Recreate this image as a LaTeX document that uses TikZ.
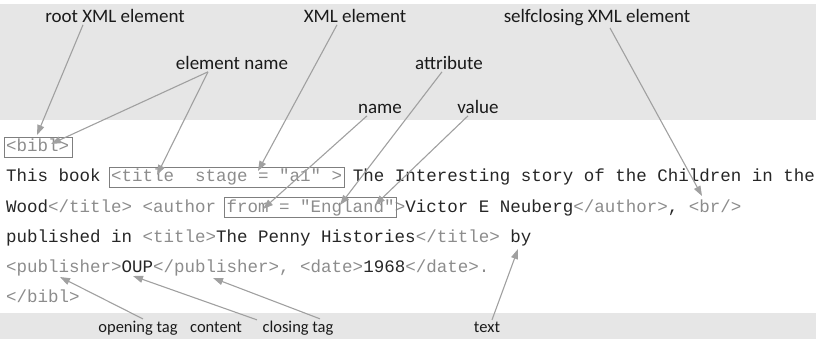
\documentclass[tikz,border=0pt]{standalone}
\usepackage{fontspec}
\usepackage{xcolor}
\usetikzlibrary{arrows.meta}
\setsansfont{Carlito}
\newfontfamily\codefont{Liberation Mono}

\definecolor{bandgray}{HTML}{E6E6E6}
\definecolor{taggray}{HTML}{8C8C8C}
\definecolor{txtdark}{HTML}{262626}
\definecolor{boxgray}{HTML}{7F7F7F}
\definecolor{arrowgray}{HTML}{A0A0A0}
\definecolor{labelink}{HTML}{1A1A1A}

\newcommand{\tg}[1]{\textcolor{taggray}{#1}}

\begin{document}
\begin{tikzpicture}[x=1pt,y=-1pt]

%-------------------------------------------------
% Styles
%-------------------------------------------------
\tikzset{
  band/.style={fill=bandgray},
  lbl/.style={font=\sffamily\fontsize{19}{19}\selectfont, text=labelink, inner sep=2pt, anchor=base},
  lblbot/.style={lbl, font=\sffamily\fontsize{16.5}{16.5}\selectfont},
  code/.style={font=\codefont\fontsize{17.5}{17.5}\selectfont, text=txtdark, inner sep=0pt, anchor=base west},
  codebox/.style={draw=boxgray, line width=1pt, inner sep=0pt, anchor=north west},
  pointer/.style={draw=arrowgray, line width=1.1pt, -{Triangle[length=10pt,width=7pt]}}
}

\useasboundingbox (0,0) rectangle (816,339);

% Gray bands for the labels
\fill[band] (0,4) rectangle (816,120);
\fill[band] (0,313) rectangle (816,339);

%-------------------------------------------------
% XML code
%-------------------------------------------------
\node[code] (l1) at (6,152) {\tg{<bibl>}};
\node[code] (l2) at (6,182) {This book \tg{<title~~stage = "a1" >} The Interesting story of the Children in the};
\node[code] (l3) at (6,212) {Wood\tg{</title> <author }\tg{from = "England"}\tg{>}Victor E Neuberg\tg{</author>}, \tg{<br/>}};
\node[code] (l4) at (6,242) {published in \tg{<title>}The Penny Histories\tg{</title>} by};
\node[code] (l5) at (6,272) {\tg{<publisher>}OUP\tg{</publisher>, <date>}1968\tg{</date>.}};
\node[code] (l6) at (6,302) {\tg{</bibl>}};

% Boxes round the marked parts
\node[codebox, minimum width=68, minimum height=20] (bibbox) at (4,137) {};
\node[codebox, minimum width=235, minimum height=20] (titlebox) at (109,167) {};
\node[codebox, minimum width=172, minimum height=20] (frombox) at (223.5,197) {};

%-------------------------------------------------
% Labels
%-------------------------------------------------
\node[lbl] (root) at (115,22.5) {root XML element};
\node[lbl] (xmlel) at (355,22.5) {XML element};
\node[lbl] (selfcl) at (597,22.5) {selfclosing XML element};
\node[lbl] (elname) at (232,69.5) {element name};
\node[lbl] (attr) at (449,69.5) {attribute};
\node[lbl] (aname) at (380,113.5) {name};
\node[lbl] (aval) at (478,113.5) {value};

\node[lblbot] (opentag) at (138,332.5) {opening tag};
\node[lblbot] (content) at (216,332.5) {content};
\node[lblbot] (closetag) at (298,332.5) {closing tag};
\node[lblbot] (txt) at (487,332.5) {text};

%-------------------------------------------------
% Arrow tips in the code
%-------------------------------------------------
\coordinate (roottip) at (37,135);
\coordinate (bibtip) at (51,144);
\coordinate (titletip) at (157,175);
\coordinate (xmltip) at (258,171);
\coordinate (nametip) at (263,209);
\coordinate (attrtip) at (340,205);
\coordinate (valtip) at (375,205);
\coordinate (brtip) at (702,196);
\coordinate (opentip) at (60,277);
\coordinate (ouptip) at (133,276);
\coordinate (closetip) at (213,278);
\coordinate (bytip) at (518,249);

%-------------------------------------------------
% Pointers
%-------------------------------------------------
\draw[pointer] ([xshift=-32]root.south) -- (roottip);
\draw[pointer] ([xshift=-24]elname.south) -- (bibtip);
\draw[pointer] ([xshift=-24]elname.south) -- (titletip);
\draw[pointer] ([xshift=-18]xmlel.south) -- (xmltip);
\draw[pointer] ([xshift=-13]aname.south) -- (nametip);
\draw[pointer] ([xshift=-7]attr.south) -- (attrtip);
\draw[pointer] ([xshift=-10]aval.south) -- (valtip);
\draw[pointer] ([xshift=13]selfcl.south) -- (brtip);

\draw[pointer] ([xshift=5]opentag.north) -- (opentip);
\draw[pointer] ([xshift=41]content.north) -- (ouptip);
\draw[pointer] ([xshift=22]closetag.north) -- (closetip);
\draw[pointer] ([xshift=5]txt.north) -- (bytip);

\end{tikzpicture}
\end{document}
